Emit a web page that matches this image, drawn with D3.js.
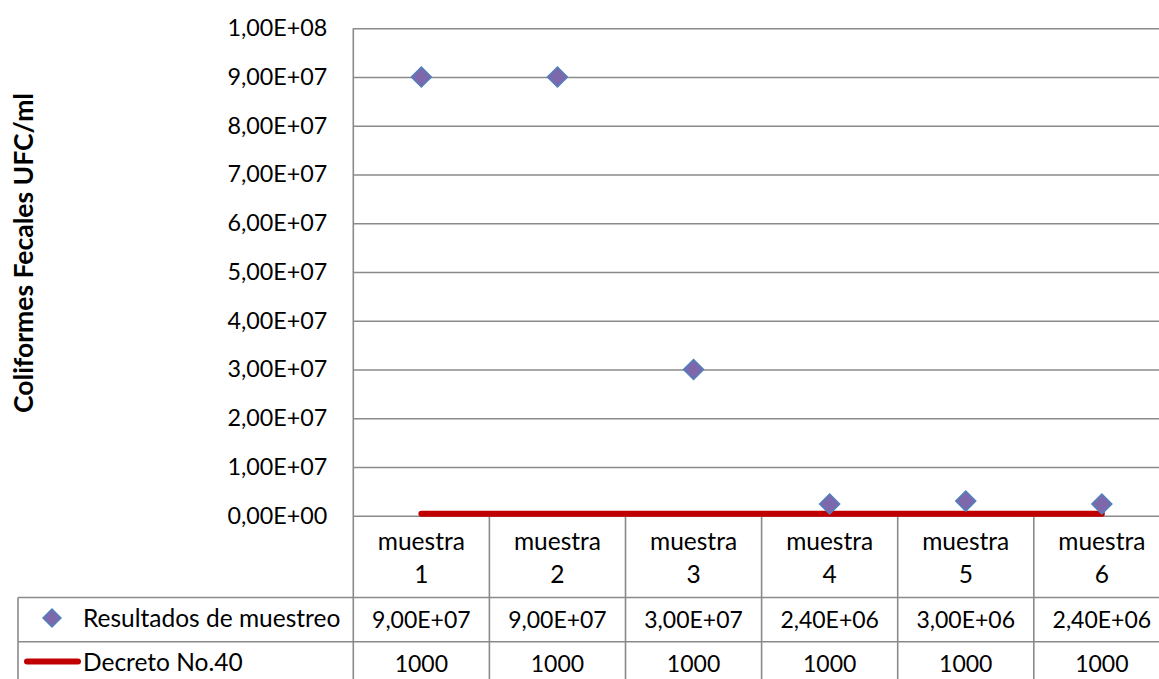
<!DOCTYPE html>
<html>
<head>
<meta charset="utf-8">
<script src="https://cdn.jsdelivr.net/npm/d3@7"></script>
<style>
  body { margin: 0; background: #fff; }
  svg { display: block; }
  text { font-family: Lato, "Open Sans", sans-serif; fill: #000; }
</style>
</head>
<body>
<svg id="chart" width="1159" height="679"></svg>
<script>
// Sample labels and measured values
const categories = ["muestra 1", "muestra 2", "muestra 3", "muestra 4", "muestra 5", "muestra 6"];
const resultados = [9.0e7, 9.0e7, 3.0e7, 2.4e6, 3.0e6, 2.4e6];
const decreto = [1000, 1000, 1000, 1000, 1000, 1000];
const seriesNames = ["Resultados de muestreo", "Decreto No.40"];
const yTicks = [0, 1e7, 2e7, 3e7, 4e7, 5e7, 6e7, 7e7, 8e7, 9e7, 1e8];
const yTitle = "Coliformes Fecales UFC/ml";

const W = 1159, H = 679;
const plotLeft = 353.3, plotTop = 28.3, plotBottom = 515.7;
const bandW = 136.1;
const tableLeft = 18;
const rowLines = [597.5, 641.7];
const tableBottom = 686;

const GRID = "#8a8a8a";
const RED = "#C00000";
const MARK_FILL = "#7D68AC";
const MARK_STROKE = "#4F81BD";

const svg = d3.select("#chart");

const x = d3.scaleBand().domain(categories)
  .range([plotLeft, plotLeft + bandW * categories.length])
  .paddingInner(0).paddingOuter(0);
const y = d3.scaleLinear().domain([0, 1e8]).range([plotBottom, plotTop]);

// Scientific notation with decimal comma, e.g. 9,00E+07
function sci(v) {
  const [m, e] = v.toExponential(2).split("e");
  const exp = parseInt(e, 10);
  const sign = exp < 0 ? "-" : "+";
  return m.replace(".", ",") + "E" + sign + String(Math.abs(exp)).padStart(2, "0");
}

// Horizontal gridlines and value axis labels
const yAxis = d3.axisLeft(y)
  .tickValues(yTicks)
  .tickFormat(sci)
  .tickSize(-(W - plotLeft))
  .tickPadding(26);

const gy = svg.append("g")
  .attr("transform", `translate(${plotLeft},0)`)
  .call(yAxis);
gy.select(".domain").remove();
gy.selectAll(".tick line").attr("stroke", GRID).attr("stroke-width", 1.6);
gy.selectAll(".tick text")
  .attr("font-size", 23.3)
  .attr("font-family", "Lato, 'Open Sans', sans-serif")
  .attr("fill", "#000");

// Value axis line continues down through the data table
svg.append("line")
  .attr("x1", plotLeft).attr("x2", plotLeft)
  .attr("y1", plotTop).attr("y2", tableBottom)
  .attr("stroke", GRID).attr("stroke-width", 1.6);

// Category column separators in the data table
const bounds = categories.slice(1).map(c => x(c));
svg.append("g").selectAll("line").data(bounds).join("line")
  .attr("x1", d => d).attr("x2", d => d)
  .attr("y1", plotBottom).attr("y2", tableBottom)
  .attr("stroke", GRID).attr("stroke-width", 1.6);

// Table row separators
svg.append("g").selectAll("line").data(rowLines).join("line")
  .attr("x1", tableLeft).attr("x2", W)
  .attr("y1", d => d).attr("y2", d => d)
  .attr("stroke", GRID).attr("stroke-width", 1.6);
svg.append("line")
  .attr("x1", tableLeft).attr("x2", tableLeft)
  .attr("y1", rowLines[0]).attr("y2", tableBottom)
  .attr("stroke", GRID).attr("stroke-width", 1.6);

// Category labels (two lines each)
const catG = svg.append("g").selectAll("text").data(categories).join("text")
  .attr("text-anchor", "middle")
  .attr("font-size", 24.5);
catG.each(function (d) {
  const parts = d.split(" ");
  const t = d3.select(this);
  const cx = x(d) + x.bandwidth() / 2;
  t.append("tspan").attr("x", cx).attr("y", 550).text(parts[0]);
  t.append("tspan").attr("x", cx).attr("y", 583).text(parts[1]);
});

// Limit line (Decreto No.40)
const line = d3.line()
  .x((d, i) => x(categories[i]) + x.bandwidth() / 2)
  .y(d => y(d) - 2);
svg.append("path")
  .datum(decreto)
  .attr("d", line)
  .attr("fill", "none")
  .attr("stroke", RED)
  .attr("stroke-width", 6)
  .attr("stroke-linecap", "round");

// Diamond markers for sample results
const diamond = d3.symbol().type(d3.symbolSquare).size(200);
svg.append("g").selectAll("path").data(resultados).join("path")
  .attr("d", diamond)
  .attr("transform", (d, i) =>
    `translate(${x(categories[i]) + x.bandwidth() / 2},${y(d)}) rotate(45)`)
  .attr("fill", MARK_FILL)
  .attr("stroke", MARK_STROKE)
  .attr("stroke-width", 1.5);

// Data table rows
const rows = [
  { name: seriesNames[0], values: resultados.map(sci), baseline: 628 },
  { name: seriesNames[1], values: decreto.map(String), baseline: 672 }
];
rows.forEach(r => {
  svg.append("g").selectAll("text").data(r.values).join("text")
    .attr("x", (d, i) => x(categories[i]) + x.bandwidth() / 2)
    .attr("y", r.baseline)
    .attr("text-anchor", "middle")
    .attr("font-size", 23)
    .text(d => d);
  svg.append("text")
    .attr("x", 83).attr("y", r.baseline - 1)
    .attr("font-size", 24.5)
    .text(r.name);
});

// Legend keys inside the table
svg.append("path")
  .attr("d", d3.symbol().type(d3.symbolSquare).size(160))
  .attr("transform", "translate(52,618) rotate(45)")
  .attr("fill", MARK_FILL)
  .attr("stroke", MARK_STROKE)
  .attr("stroke-width", 1.5);
svg.append("line")
  .attr("x1", 27).attr("x2", 78)
  .attr("y1", 661.5).attr("y2", 661.5)
  .attr("stroke", RED).attr("stroke-width", 6)
  .attr("stroke-linecap", "round");

// Value axis title
svg.append("text")
  .attr("transform", `translate(33,${(93 + 413) / 2}) rotate(-90)`)
  .attr("text-anchor", "middle")
  .attr("font-size", 26.5)
  .attr("font-weight", "bold")
  .text(yTitle);
</script>
</body>
</html>
